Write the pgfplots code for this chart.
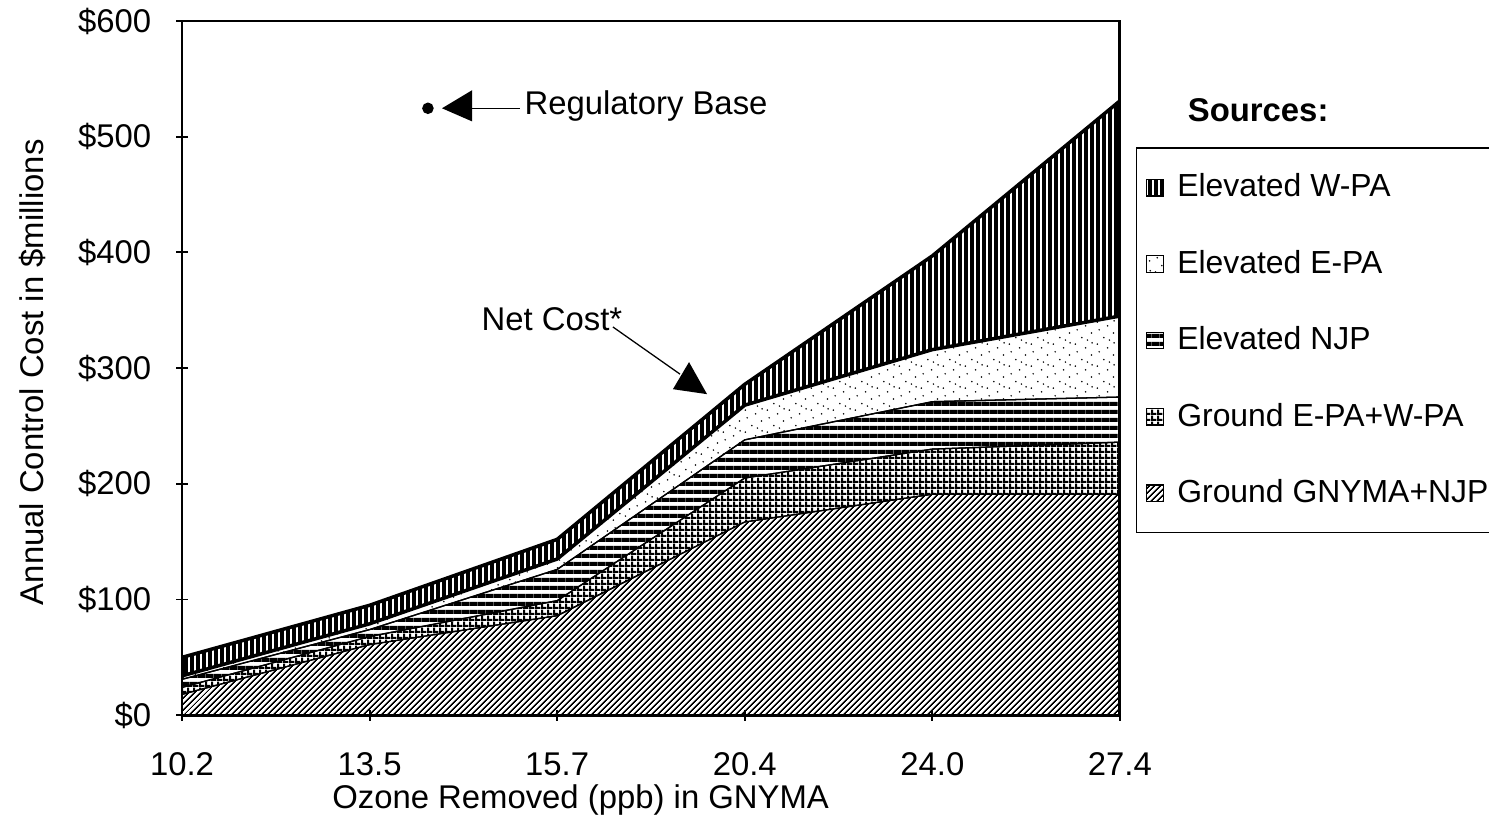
\documentclass[border=0pt]{standalone}
\usepackage{fontspec}
\setmainfont{Liberation Sans}
\usepackage{pgfplots}
\pgfplotsset{compat=1.18}
\usetikzlibrary{patterns.meta}

\tikzdeclarepattern{name=VL, type=uncolored,
  bounding box={(0,0) and (2pt,2pt)}, tile size={(2pt,2pt)},
  code={\fill (0,0) rectangle (1.35pt,2pt);}}
\tikzdeclarepattern{name=HL, type=uncolored,
  bounding box={(0,0) and (2.6pt,2.6pt)}, tile size={(2.6pt,2.6pt)},
  code={\fill (0,0) rectangle (2.6pt,1.4pt);}}
\tikzdeclarepattern{name=GR, type=uncolored,
  bounding box={(0,0) and (1.9pt,1.9pt)}, tile size={(1.9pt,1.9pt)},
  code={\fill (0,0) rectangle (1.9pt,0.75pt); \fill (0,0) rectangle (0.75pt,1.9pt);}}
\tikzdeclarepattern{name=DL, type=uncolored,
  bounding box={(0,0) and (1.5pt,1.5pt)}, tile size={(1.5pt,1.5pt)},
  tile transformation={rotate=45},
  code={\fill (0,0) rectangle (1.5pt,0.65pt);}}
\tikzdeclarepattern{name=ST, type=uncolored,
  bounding box={(0,0) and (7pt,7pt)}, tile size={(7pt,7pt)},
  code={\fill (0.6pt,1.1pt) circle (0.28pt); \fill (3.7pt,2.6pt) circle (0.28pt);
        \fill (1.8pt,4.9pt) circle (0.28pt); \fill (5.6pt,6.1pt) circle (0.28pt);
        \fill (6.2pt,3.6pt) circle (0.28pt); \fill (3.9pt,6.5pt) circle (0.28pt);
        \fill (2.4pt,0.3pt) circle (0.28pt);}}

\newcommand{\fs}{\fontsize{10.3}{12.4}\selectfont}
\newcommand{\fl}{\fontsize{10}{12}\selectfont}

\begin{document}
\begin{tikzpicture}
\path[use as bounding box] (-57.06pt,-34.8pt) rectangle (409.7pt,224.2pt);
\begin{axis}[
  scale only axis, width=294pt, height=217.6pt,
  at={(0,0)}, anchor=south west,
  xmin=0, xmax=5, ymin=0, ymax=600,
  xtick={0,1,2,3,4,5},
  xticklabels={10.2,13.5,15.7,20.4,24.0,27.4},
  ytick={0,100,200,300,400,500,600},
  yticklabel={\$\pgfmathprintnumber{\tick}},
  /pgf/number format/assume math mode=true,
  tick align=center, major tick length=3.5pt,
  xtick pos=bottom, ytick pos=left,
  tick style={black, line width=0.6pt},
  axis line style={line width=0.9pt},
  tick label style={font=\fs},
  xticklabel style={anchor=center, yshift=-13.6pt},
  yticklabel style={anchor=east, xshift=-4.4pt},
  label style={font=\fs},
  xlabel={Ozone Removed (ppb) in GNYMA},
  xlabel style={at={(axis description cs:0.425,-0.1222)}, anchor=center},
  ylabel={Annual Control Cost in \$millions},
  ylabel style={at={(axis description cs:-0.159,0.494)}, anchor=center},
  stack plots=y,
  reverse legend,
  legend cell align=left,
  legend style={at={(1.017,0.818)}, anchor=north west, draw=black,
    line width=0.5pt, font=\fl, row sep=11.2pt, inner ysep=6pt, inner xsep=3pt},
  legend image code/.code={\draw[#1, draw=black, line width=0.4pt] (0pt,-2.6pt) rectangle (5.2pt,2.6pt); \path (7pt,0pt);},
]
\addplot[draw=black, line width=0.4pt, pattern=DL, pattern color=black]
  coordinates {(0,18) (1,61) (2,86) (3,167) (4,191) (5,191)} \closedcycle;
\addlegendentry{\makebox[34mm][l]{Ground GNYMA+NJP}}
\addplot[draw=black, line width=0.4pt, pattern=GR, pattern color=black]
  coordinates {(0,6) (1,7) (2,13) (3,38) (4,39) (5,45)} \closedcycle;
\addlegendentry{Ground E-PA+W-PA}
\addplot[draw=black, line width=0.4pt, pattern=HL, pattern color=black]
  coordinates {(0,7) (1,6) (2,27) (3,33) (4,41) (5,39)} \closedcycle;
\addlegendentry{Elevated NJP}
\addplot[draw=black, line width=0.4pt, pattern=ST, pattern color=black]
  coordinates {(0,3) (1,5) (2,9) (3,30) (4,45) (5,70)} \closedcycle;
\addlegendentry{Elevated E-PA}
\addplot[draw=black, line width=1.1pt, pattern=VL, pattern color=black]
  coordinates {(0,16) (1,16) (2,17) (3,18) (4,81) (5,186)} \closedcycle;
\addlegendentry{Elevated W-PA}

\addplot[stack plots=false, only marks, mark=*, mark size=1.6pt, black, forget plot]
  coordinates {(1.311,524.6)};

\fill[black] (axis cs:1.386,524.6) -- (axis cs:1.546,540.2) -- (axis cs:1.546,513.3) -- cycle;
\draw[black, line width=0.4pt] (axis cs:1.546,524.6) -- (axis cs:1.802,524.6);
\node[anchor=west, font=\fs, inner sep=0pt] at (axis cs:1.823,526.3) {Regulatory Base};

\node[anchor=center, font=\fs, inner sep=0pt] at (axis cs:1.972,342.5) {Net Cost*};
\draw[black, line width=0.4pt] (axis cs:2.297,335.6) -- (axis cs:2.655,294.8);
\fill[black] (axis cs:2.617,281.8) -- (axis cs:2.703,305.2) -- (axis cs:2.799,277.5) -- cycle;
\end{axis}
\node[anchor=west, font=\fs\bfseries, inner sep=0pt] at (315.1pt,189.7pt) {Sources:};
\end{tikzpicture}
\end{document}
